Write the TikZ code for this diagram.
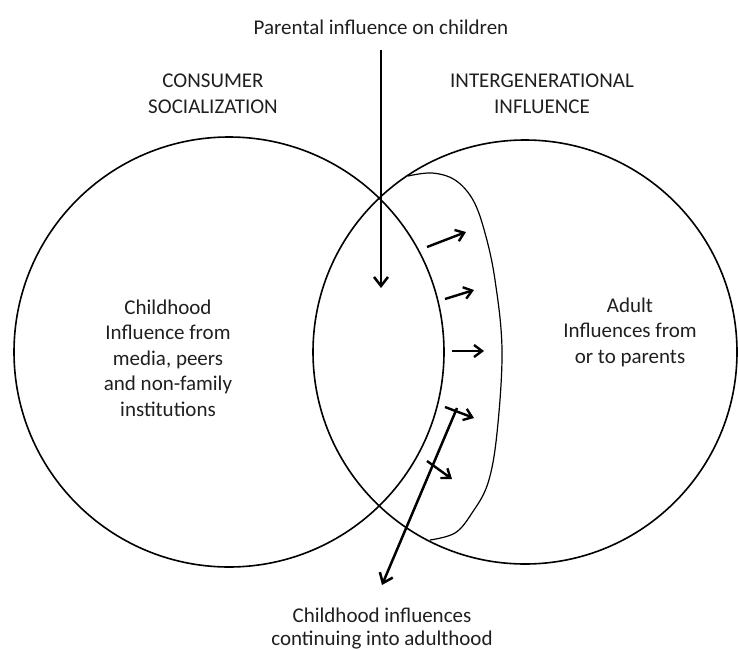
\documentclass[tikz,border=0pt]{standalone}
\usepackage{fontspec}
\setmainfont{Carlito}
\usetikzlibrary{arrows.meta}
\begin{document}
\begin{tikzpicture}[x=1pt,y=-1pt,
  label text/.style={font=\fontsize{21}{25.5}\selectfont, align=center, text=black!88, inner sep=0pt},
  ring/.style={draw=black, line width=1.6pt},
  band/.style={draw=black, line width=1.2pt},
  flow/.style={draw=black, line width=2.5pt, -{Straight Barb[length=9pt,width=14pt]}},
  push/.style={draw=black, line width=2.4pt, -{Straight Barb[length=8pt,width=12pt]}}]
\useasboundingbox (0,0) rectangle (738,650);

% the two overlapping domains
\draw[ring] (229,352) circle[radius=215pt];
\draw[ring] (525,352) circle[radius=212pt];

% band of influence carried from the overlap into the adult domain
\draw[band] plot[smooth, tension=0.6] coordinates {
  (408,176) (432,173) (455,180) (473,200) (485,233) (495,280)
  (502,350) (497,433) (488,483) (472,513) (455,533) (430,540)};

% headings and labels
\node[label text] (parental) at (381,27) {Parental influence on children};
\node[label text] (consumer) at (213,94) {CONSUMER\\SOCIALIZATION};
\node[label text] (intergen) at (542,94) {INTERGENERATIONAL\\INFLUENCE};
\node[label text] (childhood) at (168,358) {Childhood\\Influence from\\media, peers\\and non-family\\institutions};
\node[label text] (adult) at (630,332) {Adult\\Influences from\\or to parents};
\node[label text, font=\fontsize{21}{22.5}\selectfont, anchor=south] (continuing) at (382,649) {Childhood influences\\continuing into adulthood};

% parental influence arrow
\coordinate (pstart) at (381,50);
\coordinate (pend) at (381,288);
\draw[flow] (pstart) -- (pend);

% childhood influences continuing into adulthood
\coordinate (cstart) at (457,408);
\coordinate (cend) at (382,585);
\draw[flow] (cstart) -- (cend);

% outward pushes across the band
\coordinate (a1) at (427,247); \coordinate (b1) at (466,232);
\coordinate (a2) at (445,299); \coordinate (b2) at (474,290);
\coordinate (a3) at (452,351); \coordinate (b3) at (484,351);
\coordinate (a4) at (445,407); \coordinate (b4) at (474,418);
\coordinate (a5) at (427,461); \coordinate (b5) at (452,479);
\foreach \i in {1,...,5} \draw[push] (a\i) -- (b\i);
\end{tikzpicture}
\end{document}
